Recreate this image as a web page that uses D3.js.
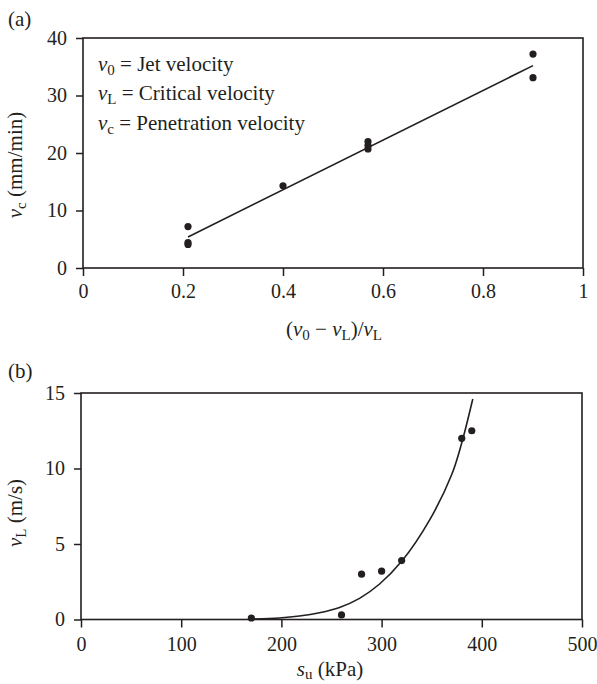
<!DOCTYPE html>
<html><head><meta charset="utf-8">
<script src="https://cdn.jsdelivr.net/npm/d3@7"></script>
<style>
body{margin:0;background:#fff;}
svg{display:block;font-family:"Liberation Serif","DejaVu Serif",serif;}
</style></head>
<body>
<svg id="c" width="597" height="684"></svg>
<script>
// ---- Panel (a) data ----
const aPointsX = [0.21, 0.21, 0.21, 0.40, 0.57, 0.57, 0.57, 0.90, 0.90];
const aPointsY = [7.2, 4.4, 4.1, 14.3, 22.0, 21.3, 20.7, 37.2, 33.1];
const aFitX = [0.21, 0.90];
const aFitY = [5.4, 35.2];
const aXTicks = [0, 0.2, 0.4, 0.6, 0.8, 1];
const aXTickLabels = ["0", "0.2", "0.4", "0.6", "0.8", "1"];
const aYTicks = [0, 10, 20, 30, 40];
const legendLines = [
  {sub: "0", text: " = Jet velocity"},
  {sub: "L", text: " = Critical velocity"},
  {sub: "c", text: " = Penetration velocity"}
];
// ---- Panel (b) data ----
const bPointsX = [170, 260, 280, 300, 320, 380, 390];
const bPointsY = [0.1, 0.3, 3.0, 3.2, 3.9, 12.0, 12.5];
const bCurveX = [170, 198, 218, 238, 258, 278, 298, 320, 348, 370, 380, 391];
const bCurveY = [0.02, 0.1, 0.23, 0.45, 0.8, 1.4, 2.35, 3.85, 6.6, 9.6, 11.7, 14.6];
const bXTicks = [0, 100, 200, 300, 400, 500];
const bYTicks = [0, 5, 10, 15];

const svg = d3.select("#c");
const FS = 20;
const LFS = 21;

function panel(opt) {
  const g = svg.append("g");
  const x = d3.scaleLinear().domain(opt.xDomain).range([opt.left, opt.right]);
  const y = d3.scaleLinear().domain(opt.yDomain).range([opt.bottom, opt.top]);
  g.append("rect").attr("x", opt.left).attr("y", opt.top)
    .attr("width", opt.right - opt.left).attr("height", opt.bottom - opt.top)
    .attr("fill", "none").attr("stroke", "#231f20").attr("stroke-width", 1.6);
  const xa = g.append("g").attr("transform", `translate(0,${opt.bottom})`)
    .call(d3.axisBottom(x).tickValues(opt.xTicks).tickSize(8).tickPadding(opt.xPad)
      .tickFormat((d, i) => opt.xLabels ? opt.xLabels[i] : String(d)));
  const ya = g.append("g").attr("transform", `translate(${opt.left},0)`)
    .call(d3.axisLeft(y).tickValues(opt.yTicks).tickSize(7).tickPadding(9));
  [xa, ya].forEach(a => {
    a.select(".domain").remove();
    a.selectAll("line").attr("stroke", "#231f20").attr("stroke-width", 1.5);
    a.selectAll("text").attr("font-family", "Liberation Serif, serif")
      .attr("font-size", FS).attr("fill", "#231f20");
  });
  return {g, x, y};
}

// Panel (a)
const A = panel({left: 83, right: 583, top: 38, bottom: 268, xDomain: [0, 1], yDomain: [0, 40],
  xTicks: aXTicks, xLabels: aXTickLabels, yTicks: aYTicks, xPad: 8});
A.g.append("path")
  .datum(aFitX.map((d, i) => [d, aFitY[i]]))
  .attr("d", d3.line().x(d => A.x(d[0])).y(d => A.y(d[1])))
  .attr("fill", "none").attr("stroke", "#231f20").attr("stroke-width", 1.6);
A.g.selectAll("circle.pa").data(aPointsX.map((d, i) => [d, aPointsY[i]])).enter()
  .append("circle").attr("cx", d => A.x(d[0])).attr("cy", d => A.y(d[1]))
  .attr("r", 3.6).attr("fill", "#231f20");

legendLines.forEach((l, i) => {
  const t = A.g.append("text").attr("x", 98).attr("y", 70.5 + i * 29.5)
    .attr("font-size", LFS).attr("fill", "#231f20");
  t.append("tspan").attr("font-style", "italic").text("ν");
  t.append("tspan").attr("font-size", 15).attr("dy", 4).text(l.sub);
  t.append("tspan").attr("dy", -4).text(l.text);
});

{
  const t = svg.append("text").attr("x", 334).attr("y", 336).attr("text-anchor", "middle")
    .attr("font-size", LFS).attr("fill", "#231f20");
  t.append("tspan").text("(");
  t.append("tspan").attr("font-style", "italic").text("ν");
  t.append("tspan").attr("font-size", 15).attr("dy", 4).text("0");
  t.append("tspan").attr("dy", -4).text(" − ");
  t.append("tspan").attr("font-style", "italic").text("ν");
  t.append("tspan").attr("font-size", 15).attr("dy", 4).text("L");
  t.append("tspan").attr("dy", -4).text(")/");
  t.append("tspan").attr("font-style", "italic").text("ν");
  t.append("tspan").attr("font-size", 15).attr("dy", 4).text("L");
}
{
  const t = svg.append("text").attr("transform", "translate(22,165) rotate(-90)")
    .attr("text-anchor", "middle").attr("font-size", LFS).attr("fill", "#231f20");
  t.append("tspan").attr("font-style", "italic").text("ν");
  t.append("tspan").attr("font-size", 15).attr("dy", 4).text("c");
  t.append("tspan").attr("dy", -4).text(" (mm/min)");
}
svg.append("text").attr("x", 8).attr("y", 26).attr("font-size", LFS).attr("fill", "#231f20").text("(a)");

// Panel (b)
const B = panel({left: 81, right: 582, top: 393, bottom: 619.5, xDomain: [0, 500], yDomain: [0, 15],
  xTicks: bXTicks, yTicks: bYTicks, xPad: 9.5});
B.g.append("path")
  .datum(bCurveX.map((d, i) => [d, bCurveY[i]]))
  .attr("d", d3.line().curve(d3.curveCatmullRom.alpha(0.5)).x(d => B.x(d[0])).y(d => B.y(d[1])))
  .attr("fill", "none").attr("stroke", "#231f20").attr("stroke-width", 1.6);
B.g.selectAll("circle.pb").data(bPointsX.map((d, i) => [d, bPointsY[i]])).enter()
  .append("circle").attr("cx", d => B.x(d[0])).attr("cy", d => B.y(d[1]))
  .attr("r", 3.6).attr("fill", "#231f20");

{
  const t = svg.append("text").attr("x", 330).attr("y", 676).attr("text-anchor", "middle")
    .attr("font-size", LFS).attr("fill", "#231f20");
  t.append("tspan").attr("font-style", "italic").text("s");
  t.append("tspan").attr("font-size", 15).attr("dy", 3).text("u");
  t.append("tspan").attr("dy", -3).text(" (kPa)");
}
{
  const t = svg.append("text").attr("transform", "translate(22,513) rotate(-90)")
    .attr("text-anchor", "middle").attr("font-size", LFS).attr("fill", "#231f20");
  t.append("tspan").attr("font-style", "italic").text("ν");
  t.append("tspan").attr("font-size", 15).attr("dy", 4).text("L");
  t.append("tspan").attr("dy", -4).text(" (m/s)");
}
svg.append("text").attr("x", 8).attr("y", 378).attr("font-size", LFS).attr("fill", "#231f20").text("(b)");
</script>
</body></html>
